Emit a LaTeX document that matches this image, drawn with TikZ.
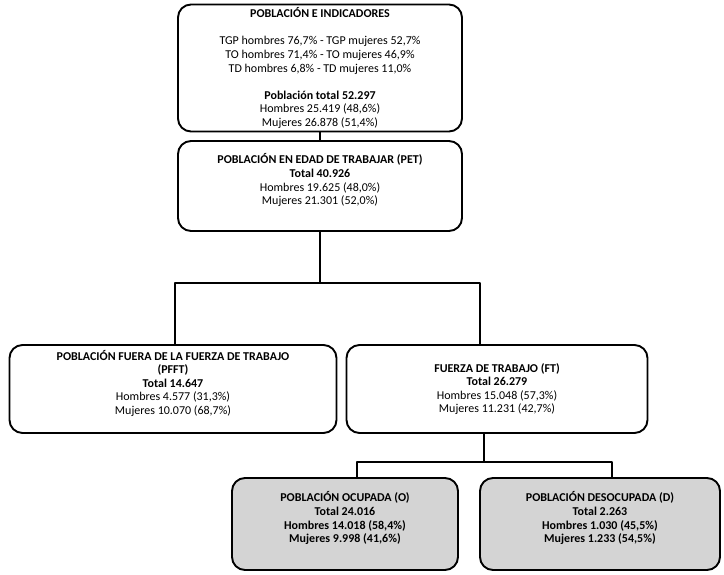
\documentclass[tikz,border=0pt]{standalone}
\usepackage{fontspec}
\setmainfont{Carlito}
\begin{document}
\begin{tikzpicture}[x=1pt,y=-1pt,line width=1.9pt,line join=round,
  caja/.style={draw,rounded corners=13pt,align=center,inner sep=0pt,font=\fontsize{12}{13.6}\selectfont},
  cajagris/.style={caja,fill=black!17,font=\fontsize{12}{13.6}\selectfont\bfseries}]
\useasboundingbox (0,0) rectangle (724,575);
\node[caja,minimum width=284pt,minimum height=127pt] (ind) at (320,68) {\textbf{POBLACIÓN E INDICADORES}\\ \\
TGP hombres 76,7\% - TGP mujeres 52,7\%\\
TO hombres 71,4\% - TO mujeres 46,9\%\\
TD hombres 6,8\% - TD mujeres 11,0\%\\ \\
\textbf{Población total 52.297}\\
Hombres 25.419 (48,6\%)\\
Mujeres 26.878 (51,4\%)};
\node[caja,minimum width=284pt,minimum height=90pt] (pet) at (320,186) {\textbf{POBLACIÓN EN EDAD DE TRABAJAR (PET)}\\
\textbf{Total 40.926}\\
Hombres 19.625 (48,0\%)\\
Mujeres 21.301 (52,0\%)\\ \mbox{}};
\node[caja,minimum width=327pt,minimum height=88pt] (pfft) at (173,389) {\textbf{POBLACIÓN FUERA DE LA FUERZA DE TRABAJO}\\
\textbf{(PFFT)}\\
\textbf{Total 14.647}\\
Hombres 4.577 (31,3\%)\\
Mujeres 10.070 (68,7\%)\\ \mbox{}};
\node[caja,minimum width=301pt,minimum height=88pt] (ft) at (497,389) {\textbf{FUERZA DE TRABAJO (FT)}\\
\textbf{Total 26.279}\\
Hombres 15.048 (57,3\%)\\
Mujeres 11.231 (42,7\%)};
\node[cajagris,minimum width=226pt,minimum height=92pt] (ocu) at (345,524) {POBLACIÓN OCUPADA (O)\\
Total 24.016\\
Hombres 14.018 (58,4\%)\\
Mujeres 9.998 (41,6\%)\\ \mbox{}};
\node[cajagris,minimum width=240pt,minimum height=92pt] (des) at (600,524) {POBLACIÓN DESOCUPADA (D)\\
Total 2.263\\
Hombres 1.030 (45,5\%)\\
Mujeres 1.233 (54,5\%)\\ \mbox{}};
% conectores
\draw (ind) -- (pet);
\coordinate (b1) at (320,283);
\coordinate (b2) at (484,462);
\draw (pet.south) -- (b1) -| ([xshift=2pt]pfft.north);
\draw (b1) -| ([xshift=-17pt]ft.north);
\draw ([xshift=-13pt]ft.south) -- (b2) -| ([xshift=12pt]ocu.north);
\draw (b2) -| ([xshift=12pt]des.north);
\end{tikzpicture}
\end{document}
